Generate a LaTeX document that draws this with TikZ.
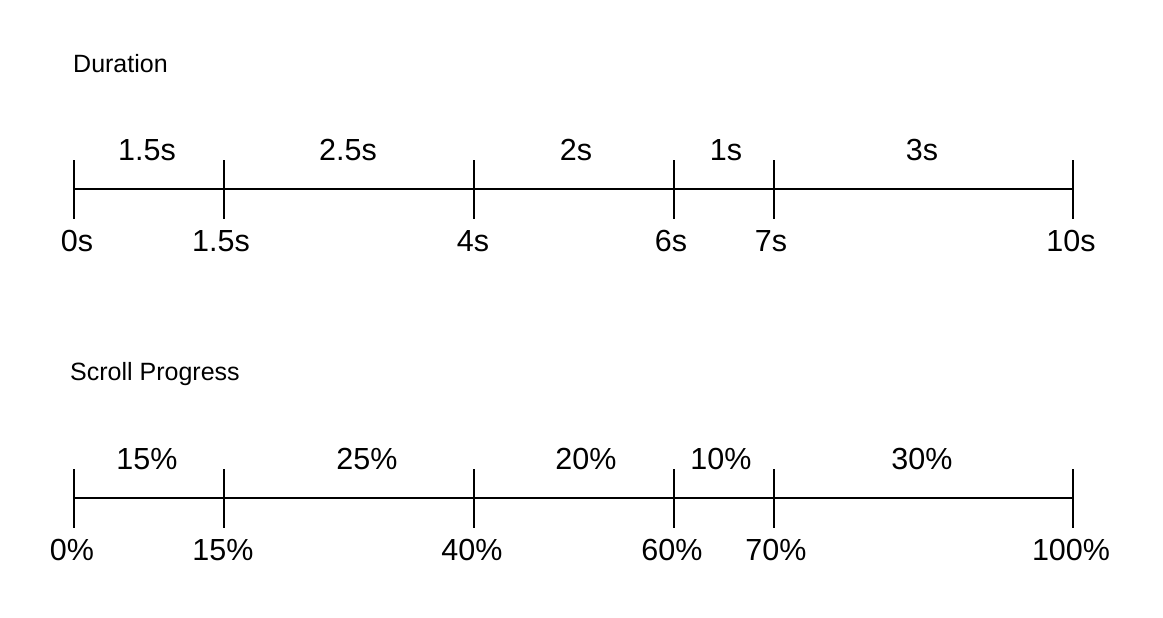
\documentclass[tikz,border=0pt]{standalone}
\usepackage{fontspec}
\setmainfont{Liberation Sans}
\usetikzlibrary{positioning}

\tikzset{
    axis/.style={line width=2pt, black},
    heading/.style={anchor=base west, inner sep=0pt, font=\fontsize{25}{29}\selectfont},
    ticklabel/.style={anchor=base, inner sep=0pt, font=\fontsize{30.5}{36}\selectfont},
}

\begin{document}
\begin{tikzpicture}[x=1pt,y=-1pt]
            \useasboundingbox (0,0) rectangle (1163,618);

            % Duration
            \node[heading] (durtitle) at (73,73) {Duration};
            \coordinate (d0) at (74,189);
            \coordinate (d1) at (224,189);
            \coordinate (d2) at (474,189);
            \coordinate (d3) at (674,189);
            \coordinate (d4) at (774,189);
            \coordinate (d5) at (1073,189);
            \draw[axis] (d0) -- (d5);
            \foreach \t in {d0,d1,d2,d3,d4,d5}
                \draw[axis] ([yshift=29pt]\t) -- ([yshift=-30pt]\t);

            \node[ticklabel] (dseg1) at (147,160) {1.5s};
            \node[ticklabel] (dseg2) at (348,160) {2.5s};
            \node[ticklabel] (dseg3) at (576,160) {2s};
            \node[ticklabel] (dseg4) at (726,160) {1s};
            \node[ticklabel] (dseg5) at (922,160) {3s};

            \node[ticklabel] (dval0) at (77,251) {0s};
            \node[ticklabel] (dval1) at (221,251) {1.5s};
            \node[ticklabel] (dval2) at (473,251) {4s};
            \node[ticklabel] (dval3) at (671,251) {6s};
            \node[ticklabel] (dval4) at (771,251) {7s};
            \node[ticklabel] (dval5) at (1071,251) {10s};

            % Scroll Progress
            \node[heading] (scrtitle) at (70,380) {Scroll Progress};
            \coordinate (p0) at (74,498);
            \coordinate (p1) at (224,498);
            \coordinate (p2) at (474,498);
            \coordinate (p3) at (674,498);
            \coordinate (p4) at (774,498);
            \coordinate (p5) at (1073,498);
            \draw[axis] (p0) -- (p5);
            \foreach \t in {p0,p1,p2,p3,p4,p5}
                \draw[axis] ([yshift=29pt]\t) -- ([yshift=-30pt]\t);

            \node[ticklabel] (pseg1) at (147,469) {15\%};
            \node[ticklabel] (pseg2) at (367,469) {25\%};
            \node[ticklabel] (pseg3) at (586,469) {20\%};
            \node[ticklabel] (pseg4) at (721,469) {10\%};
            \node[ticklabel] (pseg5) at (922,469) {30\%};

            \node[ticklabel] (pval0) at (72,560) {0\%};
            \node[ticklabel] (pval1) at (223,560) {15\%};
            \node[ticklabel] (pval2) at (472,560) {40\%};
            \node[ticklabel] (pval3) at (672,560) {60\%};
            \node[ticklabel] (pval4) at (776,560) {70\%};
            \node[ticklabel] (pval5) at (1071,560) {100\%};
        \end{tikzpicture}
\end{document}
